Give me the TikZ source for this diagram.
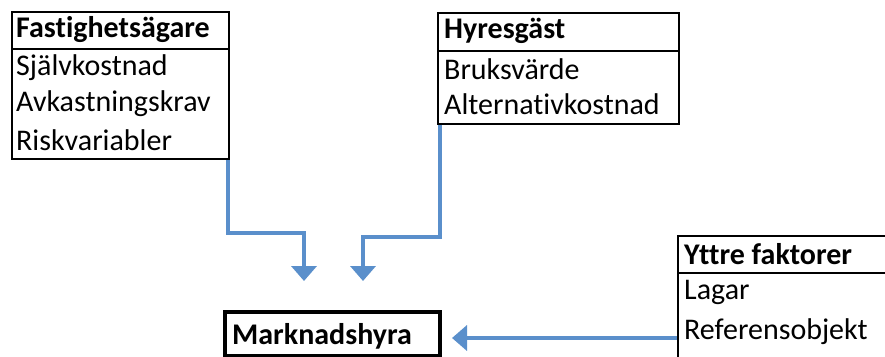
\documentclass[tikz,border=0pt]{standalone}
\usepackage{fontspec}
\setmainfont[Ligatures=NoCommon]{Carlito}
\usetikzlibrary{arrows.meta}
\definecolor{arrblue}{HTML}{5A8FCB}
\begin{document}
\begin{tikzpicture}[x=1pt,y=-1pt,
  font=\fontsize{30}{35}\selectfont,
  box/.style={draw=black,line width=1.8pt,rectangle,anchor=north west,inner sep=0pt},
  lbl/.style={anchor=west,inner sep=0pt},
  hlbl/.style={anchor=west,inner sep=0pt,font=\fontsize{30}{35}\selectfont\bfseries},
  arr/.style={draw=arrblue,line width=4.5pt,-{Triangle[width=25pt,length=15pt]}}]
\useasboundingbox (0,0) rectangle (885,356);
% Fastighetsägare
\node[box,minimum width=217pt,minimum height=37pt] (fh) at (11,11) {};
\node[box,minimum width=217pt,minimum height=110pt] (fb) at (11,48) {};
\node[hlbl] (ft) at (16,30) {Fastighetsägare};
\node[lbl] (f1) at (16,68) {Självkostnad};
\node[lbl] (f2) at (16,104) {Avkastningskrav};
\node[lbl] (f3) at (16,140) {Riskvariabler};
% Hyresgäst
\node[box,minimum width=241pt,minimum height=38pt] (hh) at (437,12) {};
\node[box,minimum width=241pt,minimum height=73pt] (hb) at (437,50) {};
\node[hlbl] (ht) at (444,31) {Hyresgäst};
\node[lbl] (h1) at (444,69) {Bruksvärde};
\node[lbl] (h2) at (444,104) {Alternativkostnad};
% Yttre faktorer
\node[box,minimum width=220pt,minimum height=37pt] (yh) at (677,235) {};
\node[box,minimum width=220pt,minimum height=100pt] (yb) at (677,272) {};
\node[hlbl] (yt) at (684,254) {Yttre faktorer};
\node[lbl] (y1) at (684,292) {Lagar};
\node[lbl] (y2) at (684,332) {Referensobjekt};
% Marknadshyra
\node[draw=black,line width=3.5pt,rectangle,anchor=north west,minimum width=215pt,minimum height=44pt] (mk) at (223,310) {};
\node[hlbl] (mt) at (232,336) {Marknadshyra};
% arrows
\coordinate (t1) at (304,281);
\coordinate (k1) at (304,233);
\coordinate (t2) at (363,281);
\coordinate (k2) at (363,237);
\coordinate (t3) at (452,338);
\draw[arr] ([xshift=-2pt]fb.south east) |- (k1) -- (t1);
\draw[arr] ([xshift=3pt]hb.south west) |- (k2) -- (t2);
\draw[arr] (yb.west |- t3) -- (t3);
\end{tikzpicture}
\end{document}
